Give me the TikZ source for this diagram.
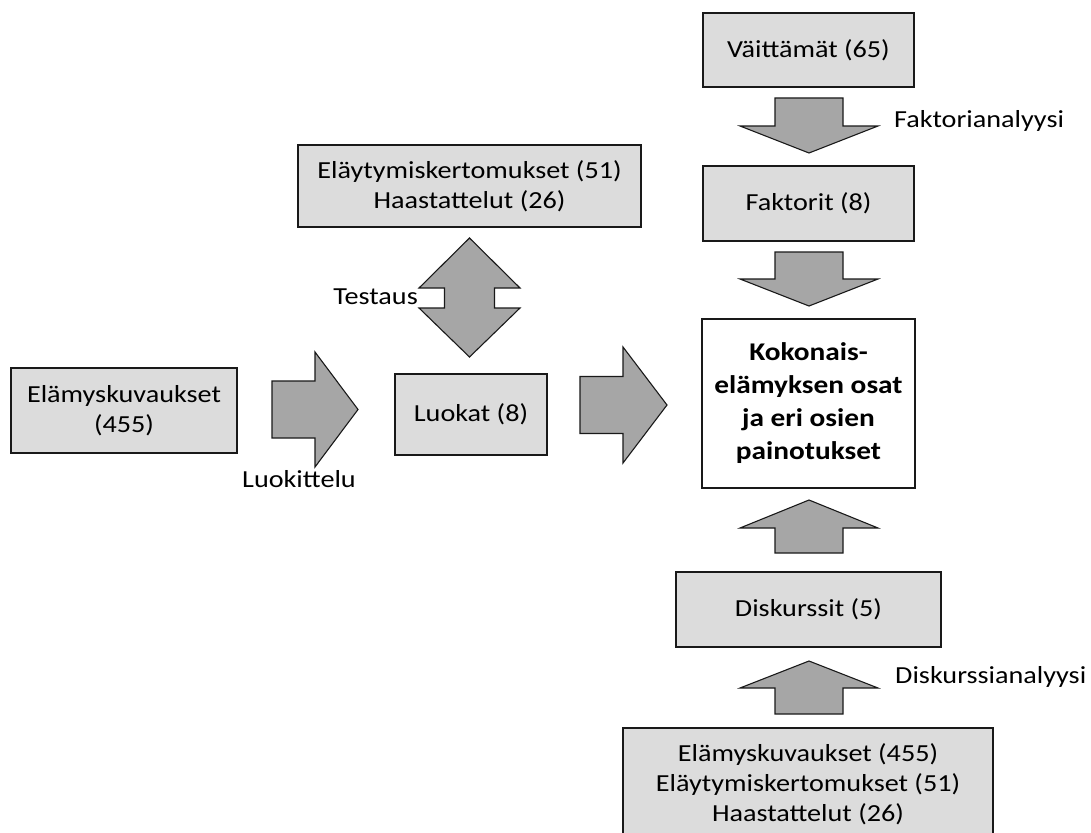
\documentclass[tikz,border=0pt]{standalone}
\usepackage{fontspec}
\setmainfont{Carlito}[FakeStretch=1.15]
\begin{document}
\begin{tikzpicture}[x=1pt,y=-1pt,
  box/.style={draw=black!90,line width=1.2pt,fill=boxgray,align=center,inner sep=0pt,
    font=\fontsize{24.5}{30}\selectfont},
  corebox/.style={box,fill=white,font=\fontsize{25.5}{33}\selectfont\bfseries},
  blockarrow/.style={draw=black!90,line width=1.1pt,fill=arrowgray,line join=miter},
  lbl/.style={inner sep=0pt,font=\fontsize{24.5}{30}\selectfont}]
\definecolor{boxgray}{HTML}{DCDCDC}
\definecolor{arrowgray}{HTML}{A6A6A6}
\useasboundingbox (0,0) rectangle (1091,832);
\begin{scope}
\clip (0,0) rectangle (1091,832);

% boxes
\node[box,minimum width=211pt,minimum height=74pt] (vait) at (808.5,50) {Väittämät (65)};
\node[box,minimum width=211pt,minimum height=75pt] (fakt) at (808.5,203.5) {Faktorit (8)};
\node[corebox,minimum width=213pt,minimum height=169pt] (core) at (808.5,403.5)
  {Kokonais-\\elämyksen osat\\ja eri osien\\painotukset};
\node[box,minimum width=265pt,minimum height=75pt] (disk) at (808.5,609.5) {Diskurssit (5)};
\node[box,minimum width=370pt,minimum height=112pt] (aineisto) at (808,784)
  {Elämyskuvaukset (455)\\Eläytymiskertomukset (51)\\Haastattelut (26)};
\node[box,minimum width=226pt,minimum height=85pt] (elam) at (124,410.5) {Elämyskuvaukset\\(455)};
\node[box,minimum width=152pt,minimum height=81pt] (luok) at (471,414.5) {Luokat (8)};
\node[box,minimum width=343pt,minimum height=82pt] (elay) at (469.5,186)
  {Eläytymiskertomukset (51)\\Haastattelut (26)};

% down arrows in the right column
\draw[blockarrow] (775,98) -- (843,98) -- (843,126) -- (878,126) -- (809,153)
  -- (740,126) -- (775,126) -- cycle;
\draw[blockarrow] (775,252) -- (843,252) -- (843,279) -- (878,279) -- (809,306)
  -- (740,279) -- (775,279) -- cycle;
% up arrows in the right column
\draw[blockarrow] (775,553) -- (843,553) -- (843,528) -- (878,528) -- (809,500)
  -- (740,528) -- (775,528) -- cycle;
\draw[blockarrow] (775,714) -- (843,714) -- (843,688) -- (878,688) -- (809,661)
  -- (740,688) -- (775,688) -- cycle;
% right arrows
\draw[blockarrow] (272,381) -- (315,381) -- (315,352) -- (358,409.5) -- (315,467)
  -- (315,438) -- (272,438) -- cycle;
\draw[blockarrow] (580,376.5) -- (623,376.5) -- (623,347) -- (667,405) -- (623,463)
  -- (623,433.5) -- (580,433.5) -- cycle;
% up-down arrow
\draw[blockarrow] (469.5,238) -- (520,288) -- (494.5,288) -- (494.5,308) -- (520,308)
  -- (469.5,357) -- (419,308) -- (444.5,308) -- (444.5,288) -- (419,288) -- cycle;

% labels
\node[lbl,anchor=west] (lfa) at (894,121) {Faktorianalyysi};
\node[lbl,anchor=west] (lda) at (895,677) {Diskurssianalyysi};
\node[lbl,anchor=east] (lte) at (418,297) {Testaus};
\node[lbl] (llu) at (299,479) {Luokittelu};
\end{scope}
\end{tikzpicture}
\end{document}
